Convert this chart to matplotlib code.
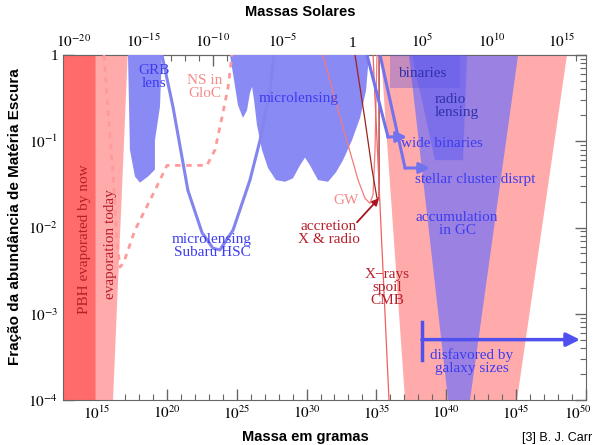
import matplotlib.pyplot as plt
import numpy as np
import matplotlib.transforms as mtransforms
from matplotlib.ticker import FixedLocator, FuncFormatter, NullFormatter, LogLocator

plt.rcParams['mathtext.fontset'] = 'stix'
plt.rcParams['font.family'] = ['Liberation Serif', 'DejaVu Serif']

# values, as log10(mass / g) and log10(fraction)
evap_now_edge = 14.9
evap_today_m = [17.2, 16.15]          # top, bottom

grb_m = [17.22, 17.36, 17.72, 18.08, 18.65, 19.15, 19.15, 19.51, 19.65]
grb_f = [0, -1.10, -1.41, -1.48, -1.41, -1.33, -0.99, -0.60, 0]

hsc_m = [19.65, 20.44, 21.51, 22.52, 23.30, 23.80, 24.74, 25.95, 26.67, 27.38, 27.67]
hsc_f = [0, -0.60, -1.57, -2.06, -2.24, -2.26, -2.03, -1.45, -0.99, -0.41, 0]

ns_m = [15.50, 15.79, 16.15, 16.43, 16.65, 16.93, 17.72, 19.15, 20.01, 22.87, 23.45, 23.95, 24.38, 24.66]
ns_f = [0, -0.64, -1.37, -2.15, -2.46, -2.40, -2.03, -1.57, -1.28, -1.28, -1.10, -0.72, -0.38, 0]

micro_m = [24.52, 24.81, 25.09, 25.45, 25.74, 25.95, 26.10, 26.24, 26.45, 26.81, 27.24, 27.81, 28.46,
           29.03, 29.53, 29.89, 30.25, 30.82, 31.54, 32.11, 32.61, 33.25, 33.83, 34.26, 34.47]
micro_f = [0, -0.29, -0.58, -0.73, -0.64, -0.44, -0.37, -0.52, -0.81, -1.10, -1.31, -1.45, -1.47,
           -1.43, -1.28, -1.19, -1.28, -1.45, -1.47, -1.36, -1.22, -0.99, -0.73, -0.41, 0]

gw_m = [31.18, 32.04, 32.97, 33.69, 34.18, 34.54, 34.76, 34.90, 35.04]
gw_f = [0, -0.52, -1.04, -1.45, -1.66, -1.72, -1.62, -1.10, 0]

acc_m = [33.47, 34.18, 34.69, 35.04, 35.19, 35.19]
acc_f = [0, -0.75, -1.33, -1.66, -1.66, 0]
acc_arrow = [(33.61, -1.94), (35.19, -1.66)]

xray_m = [34.76, 35.90]
xray_f = [0, -4]

wide_m = [34.33, 35.83, 37.19]
wide_f = [0, -0.95, -0.95]
cluster_m = [35.26, 37.05, 38.84]
cluster_f = [0, -1.31, -1.31]

galaxy_m = [38.26, 49.57]
galaxy_bar_f = [-3.10, -3.54]
galaxy_f = -3.30

pink_top = [35.33, 48.64]
pink_bottom = [37.05, 45.06]
gc_top = [37.33, 45.14]
gc_bottom = [40.13, 41.70]
binaries_m = [35.97, 40.98]
binaries_f = -0.38
radio_m = [37.55, 39.19, 41.20, 41.49]
radio_f = -1.22

MSUN = 1.989e33
xlim = (12.57, 50.0)

W, H = 596, 445
fig = plt.figure(figsize=(W / 100, H / 100), dpi=100)
ax = fig.add_axes([63 / W, 45 / H, (586 - 63) / W, 345 / H])
ax.set_xscale('log')
ax.set_yscale('log')


def P(m, f):
    return 10.0 ** np.asarray(m, float), 10.0 ** np.asarray(f, float)


blue = '#3c3cf0'
dred = '#b81e2a'
pinkt = '#f48a8a'
top, bot = 0.0, -4.0

# big pink + purple trapezoids
ax.fill(*P([pink_top[0], pink_top[1], pink_bottom[1], pink_bottom[0]], [top, top, bot, bot]),
        color='#ffabab', lw=0, zorder=1)
ax.fill(*P([gc_top[0], gc_top[1], gc_bottom[1], gc_bottom[0]], [top, top, bot, bot]),
        color='#9b82e2', lw=0, zorder=2)
ax.fill(*P([binaries_m[0], binaries_m[1], binaries_m[1], binaries_m[0]],
           [top, top, binaries_f, binaries_f]), color='#5a50e0', alpha=0.35, lw=0, zorder=3)
ax.fill(*P(radio_m, [top, radio_f, radio_f, top]), color='#5a5af5', alpha=0.45, lw=0, zorder=3)

# evaporation
ax.fill(*P([xlim[0] - 1, evap_now_edge, evap_now_edge, xlim[0] - 1], [top, top, bot, bot]),
        color='#ff6b6b', lw=0, zorder=2)
ax.fill(*P([evap_now_edge, evap_today_m[0], evap_today_m[1], evap_now_edge], [top, top, bot, bot]),
        color='#ffabab', lw=0, zorder=2)

# lensing fills
ax.fill(*P(grb_m, grb_f), color='#8a8af5', lw=0, zorder=3)
ax.fill(*P(micro_m, micro_f), color='#8a8af5', lw=0, zorder=3)

# lines
ax.plot(*P(hsc_m, hsc_f), color='#8484ef', lw=2.2, zorder=5, solid_capstyle='round')
ax.plot(*P(ns_m, ns_f), color='#ff9a9a', lw=2, ls=(0, (2, 2)), zorder=5)
ax.plot(*P(gw_m, gw_f), color='#f47a7a', lw=0.9, zorder=5)
ax.plot(*P(acc_m, acc_f), color='#a02020', lw=0.9, zorder=5)
ax.plot(*P(xray_m, xray_f), color='#f06060', lw=0.9, zorder=5)

for mm, ff in [(wide_m, wide_f), (cluster_m, cluster_f)]:
    ax.plot(*P(mm[:2], ff[:2]), color='#7272ee', lw=2.2, zorder=5)
    ax.annotate('', xy=(10 ** mm[2], 10 ** ff[2]), xytext=(10 ** mm[1], 10 ** ff[1]),
                arrowprops=dict(arrowstyle='-|>', color='#7272ee', lw=2.2, mutation_scale=16,
                                shrinkA=0, shrinkB=0), zorder=5)

ax.plot(*P([galaxy_m[0]] * 2, galaxy_bar_f), color='#5050ee', lw=2.5, zorder=5)
ax.annotate('', xy=(10 ** galaxy_m[1], 10 ** galaxy_f), xytext=(10 ** galaxy_m[0], 10 ** galaxy_f),
            arrowprops=dict(arrowstyle='-|>', color='#5050ee', lw=2.5, mutation_scale=20,
                            shrinkA=0, shrinkB=0), zorder=5)

ax.annotate('', xy=(10 ** acc_arrow[1][0], 10 ** acc_arrow[1][1]),
            xytext=(10 ** acc_arrow[0][0], 10 ** acc_arrow[0][1]),
            arrowprops=dict(arrowstyle='-|>', color='#a8141e', lw=1.3, mutation_scale=10,
                            shrinkA=0, shrinkB=0), zorder=6)

# labels
fs = 11
labels = [
    ('GRB\nlens', 19.08, -0.26, blue, 0, 'center'),
    ('NS in\nGloC', 22.73, -0.37, pinkt, 0, 'center'),
    ('microlensing', 29.46, -0.51, blue, 0, 'center'),
    ('microlensing\nSubaru HSC', 23.23, -2.21, blue, 0, 'center'),
    ('PBH evaporated by now', 14.08, -2.14, dred, 90, 'center'),
    ('evaporation today', 16.0, -2.19, dred, 90, 'center'),
    ('GW', 32.82, -1.69, pinkt, 0, 'center'),
    ('accretion\nX & radio', 31.61, -2.06, dred, 0, 'center'),
    ('X\u2212rays\nspoil\nCMB', 35.76, -2.69, dred, 0, 'center'),
    ('binaries', 38.26, -0.21, '#3030a8', 0, 'center'),
    ('radio\nlensing', 39.19, -0.59, '#3030a8', 0, 'left'),
    ('wide binaries', 39.70, -1.03, blue, 0, 'center'),
    ('stellar cluster disrpt', 42.06, -1.44, blue, 0, 'center'),
    ('accumulation\nin GC', 40.77, -1.96, blue, 0, 'center'),
    ('disfavored by\ngalaxy sizes', 41.84, -3.56, blue, 0, 'center'),
]
for txt, lm, lf, c, rot, ha in labels:
    ax.text(10 ** lm, 10 ** lf, txt, color=c, fontsize=fs, rotation=rot, ha=ha, va='center',
            multialignment='center' if ha == 'center' else 'left', linespacing=1.0, zorder=8)

ax.set_xlim(10 ** xlim[0], 10 ** xlim[1])
ax.set_ylim(1e-4, 1)

# ticks
gray = '#666666'
for s in ax.spines.values():
    s.set_color(gray)
ax.xaxis.set_major_locator(FixedLocator(10.0 ** np.arange(15, 51, 5)))
ax.xaxis.set_minor_locator(FixedLocator(10.0 ** np.arange(13, 51, 1)))
ax.xaxis.set_major_formatter(FuncFormatter(lambda v, p: r'$10^{%d}$' % round(np.log10(v))))
ax.xaxis.set_minor_formatter(NullFormatter())
ax.yaxis.set_major_locator(FixedLocator(10.0 ** np.arange(-4, 1)))
ax.yaxis.set_minor_locator(LogLocator(subs=np.arange(2, 10), numticks=20))
ax.yaxis.set_major_formatter(FuncFormatter(
    lambda v, p: '1' if round(np.log10(v)) == 0 else r'$10^{%d}$' % round(np.log10(v))))
ax.yaxis.set_minor_formatter(NullFormatter())
ax.tick_params(which='both', direction='in', top=False, right=True, color=gray, labelsize=11)
ax.tick_params(which='major', length=8, width=1)
ax.tick_params(which='minor', length=4, width=0.8)

sec = ax.secondary_xaxis('top', functions=(lambda m: m / MSUN, lambda s: s * MSUN))
sec.xaxis.set_major_locator(FixedLocator(10.0 ** np.arange(-20, 16, 5)))
sec.xaxis.set_minor_locator(FixedLocator(10.0 ** np.arange(-22, 17, 1)))
sec.xaxis.set_major_formatter(FuncFormatter(
    lambda v, p: '1' if round(np.log10(v)) == 0 else r'$10^{%d}$' % round(np.log10(v))))
sec.xaxis.set_minor_formatter(NullFormatter())
sec.tick_params(which='both', direction='in', color=gray, labelsize=11)
sec.tick_params(which='major', length=8, width=1)
sec.tick_params(which='minor', length=4, width=0.8)
sec.spines['top'].set_color(gray)

# keep the last bottom tick label inside the figure
fig.canvas.draw()
last = ax.get_xticklabels()[-1]
last.set_ha('right')
last.set_transform(last.get_transform() + mtransforms.ScaledTranslation(6 / 100, 0, fig.dpi_scale_trans))

sans = ['Liberation Sans', 'DejaVu Sans']
fig.text(300 / W, 1 - 12 / H, 'Massas Solares', ha='center', va='center',
         fontsize=10.5, fontweight='bold', family=sans)
fig.text(305 / W, 1 - 437 / H, 'Massa em gramas', ha='center', va='center',
         fontsize=10.5, fontweight='bold', family=sans)
fig.text(15 / W, 1 - 217 / H, 'Fração da abundância de Matéria Escura', ha='center', va='center',
         rotation=90, fontsize=11, fontweight='bold', family=sans)
fig.text(522 / W, 1 - 438 / H, '[3] B. J. Carr', ha='left', va='center', fontsize=9, family=sans)

fig.savefig('out.png', dpi=100)
